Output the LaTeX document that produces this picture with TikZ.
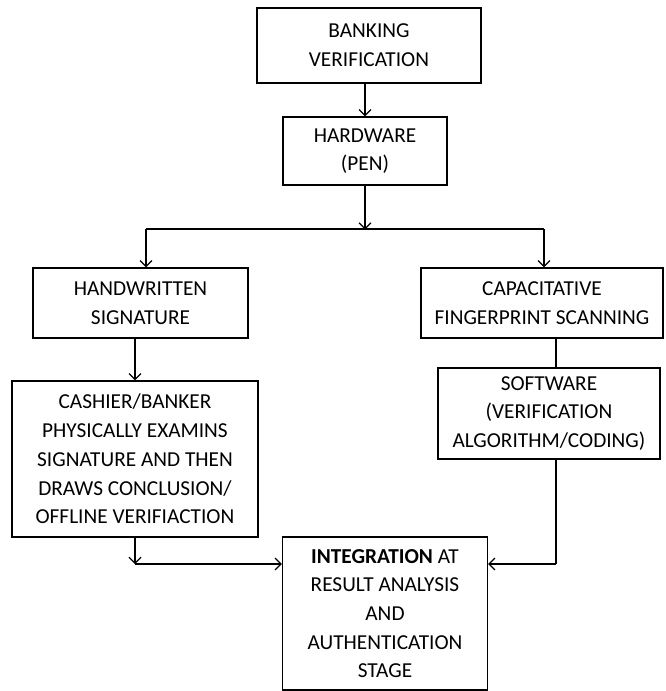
\documentclass[tikz,border=0pt]{standalone}
\usepackage{fontspec}
\setmainfont{Carlito}
\usetikzlibrary{arrows.meta}

\begin{document}
\begin{tikzpicture}[x=1pt,y=-1pt,
    box/.style={draw,line width=1.2pt,align=center,inner sep=0pt},
    link/.style={line width=1.2pt},
    arr/.style={link,-{Straight Barb[length=6pt,width=12pt]}},
    font=\fontsize{21.3}{28.7}\selectfont]
    \useasboundingbox (0,0) rectangle (665,691);
    % top of the chart
    \node[box,minimum width=224,minimum height=75] (bank) at (369,45.5) {BANKING\\VERIFICATION};
    \node[box,minimum width=164,minimum height=68] (hw) at (365,151) {HARDWARE\\(PEN)};
    % two branches
    \node[box,minimum width=215,minimum height=70] (hand) at (140.5,303) {HANDWRITTEN\\SIGNATURE};
    \node[box,minimum width=242,minimum height=70] (scan) at (542,303) {CAPACITATIVE\\FINGERPRINT SCANNING};
    \node[box,minimum width=246,minimum height=156] (cash) at (135,459)
        {CASHIER/BANKER\\PHYSICALLY EXAMINS\\SIGNATURE AND THEN\\DRAWS CONCLUSION/\\OFFLINE VERIFIACTION};
    \node[box,minimum width=222,minimum height=91] (soft) at (549,413.5)
        {SOFTWARE\\(VERIFICATION\\ALGORITHM/CODING)};
    % result
    \node[box,minimum width=205,minimum height=153] (integ) at (385,613.5)
        {\textbf{INTEGRATION} AT\\RESULT ANALYSIS\\AND\\AUTHENTICATION\\STAGE};
    % connectors
    \coordinate (split) at ([yshift=-44]hw.south);
    \coordinate (splitL) at (146,229);
    \coordinate (splitR) at (544,229);
    \coordinate (joinL) at (135,564);
    \coordinate (joinR) at (556,564);
    \draw[arr] (hw.north |- bank.south) -- (hw.north);
    \draw[arr] (hw.south) -- (split);
    \draw[link] (splitL) -- (splitR);
    \draw[arr] (splitL) -- (splitL |- hand.north);
    \draw[arr] (splitR) -- (splitR |- scan.north);
    \draw[arr] (cash.north |- hand.south) -- (cash.north);
    \draw[link] ([xshift=14]scan.south) -- ([xshift=14]scan.south |- soft.north);
    \draw[link] ([xshift=7]soft.south) -- (joinR);
    \draw[arr] (joinR) -- (joinR -| integ.east);
    \draw[arr] (cash.south) -- (joinL);
    \draw[arr] (joinL) -- (joinL -| integ.west);
\end{tikzpicture}
\end{document}
